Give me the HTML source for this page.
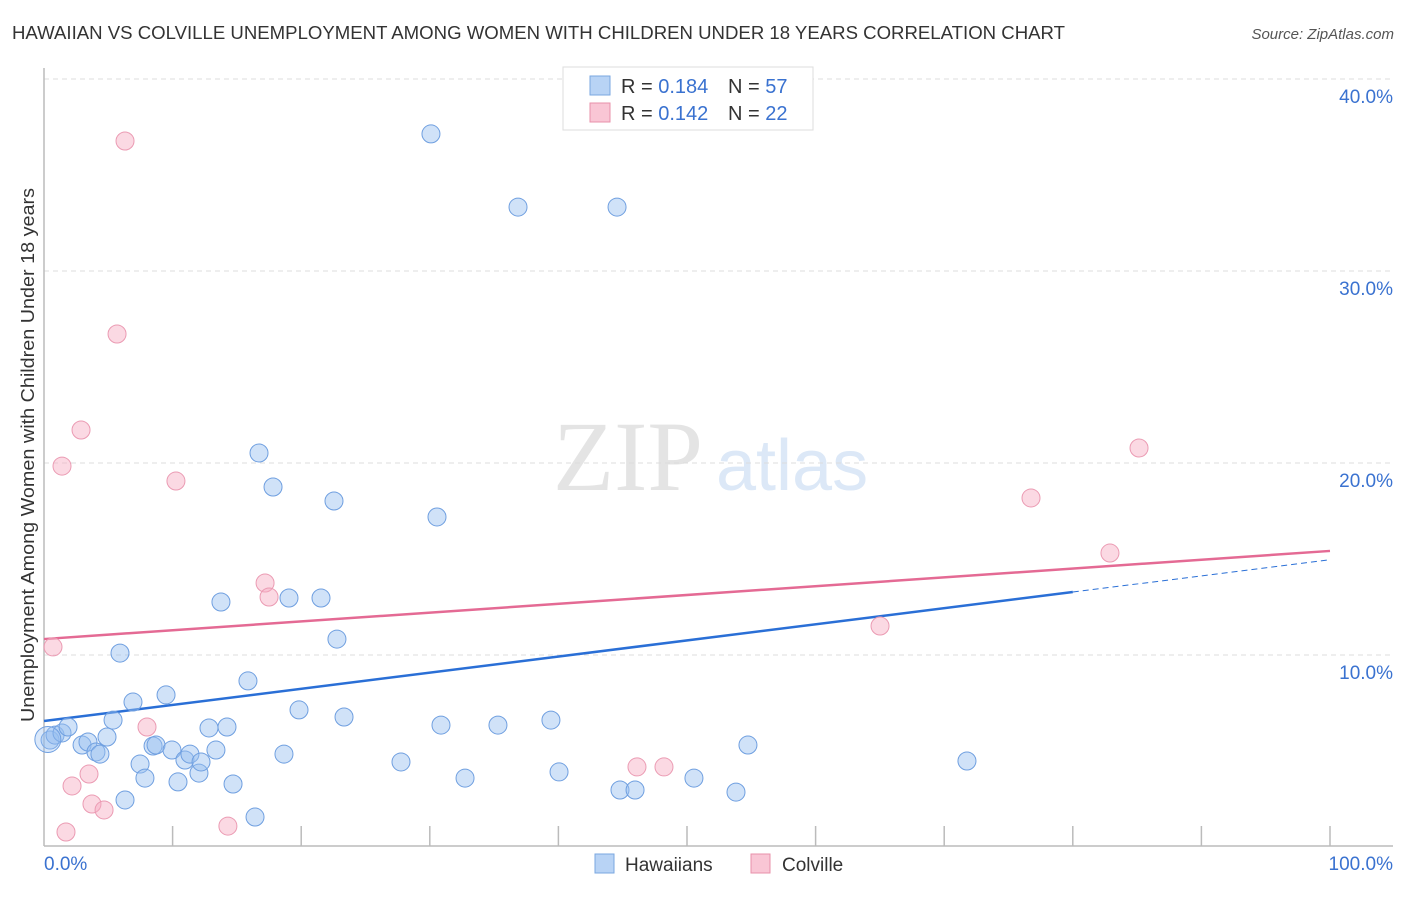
<!DOCTYPE html>
<html><head><meta charset="utf-8">
<style>
html,body{margin:0;padding:0;background:#fff;}
body{width:1406px;height:892px;overflow:hidden;font-family:"Liberation Sans",sans-serif;}
</style></head>
<body>
<svg id="chart" width="1406" height="892" xmlns="http://www.w3.org/2000/svg" font-family="Liberation Sans, sans-serif">
<text x="12" y="39" font-size="18.5" fill="#333" textLength="1053" lengthAdjust="spacingAndGlyphs">HAWAIIAN VS COLVILLE UNEMPLOYMENT AMONG WOMEN WITH CHILDREN UNDER 18 YEARS CORRELATION CHART</text>
<text x="1394" y="39" font-size="15" fill="#555" font-style="italic" text-anchor="end">Source: ZipAtlas.com</text>
<g>
<text x="553" y="490" font-family="Liberation Serif, serif" font-size="100" fill="#e4e4e4">ZIP</text>
<text x="716" y="490" font-size="72" fill="#dce8f7">atlas</text>
</g>
<g id="grid"></g>
<g id="axes"></g>
<g id="lines"></g>
<g id="points"></g>
<text transform="translate(34,455) rotate(-90)" font-size="18" fill="#333" text-anchor="middle" textLength="534" lengthAdjust="spacingAndGlyphs">Unemployment Among Women with Children Under 18 years</text>
<g>
<rect x="563" y="67" width="250" height="63" fill="#fff" stroke="#ddd"/>
<rect x="590" y="76" width="20" height="19" fill="#b8d3f5" stroke="#7aa7e0"/>
<text x="621" y="93" font-size="20" fill="#333">R = <tspan fill="#3a72d0">0.184</tspan></text>
<text x="728" y="93" font-size="20" fill="#333">N = <tspan fill="#3a72d0">57</tspan></text>
<rect x="590" y="103" width="20" height="19" fill="#f9c6d5" stroke="#e890aa"/>
<text x="621" y="120" font-size="20" fill="#333">R = <tspan fill="#3a72d0">0.142</tspan></text>
<text x="728" y="120" font-size="20" fill="#333">N = <tspan fill="#3a72d0">22</tspan></text>
</g>
<g>
<rect x="595" y="854" width="19" height="19" fill="#b8d3f5" stroke="#7aa7e0"/>
<text x="625" y="871" font-size="19" fill="#333">Hawaiians</text>
<rect x="751" y="854" width="19" height="19" fill="#f9c6d5" stroke="#e890aa"/>
<text x="782" y="871" font-size="19" fill="#333">Colville</text>
</g>
</svg>
<script>
const yTicks=[10,20,30,40];
const yTickLabels=["10.0%","20.0%","30.0%","40.0%"];
const xTickCount=10;
const xEndLabels=["0.0%","100.0%"];
const hawX=[0.47,0.86,1.4,1.87,2.96,3.42,4.04,4.35,4.9,5.37,5.91,6.3,6.92,7.47,7.85,8.48,8.71,9.49,9.95,10.42,10.96,11.35,12.05,12.21,12.83,13.37,13.76,14.23,14.7,15.86,16.41,16.72,17.81,18.66,19.05,19.83,21.54,22.55,22.78,23.33,27.76,30.09,30.56,30.87,32.74,35.3,36.86,39.42,40.05,44.56,44.79,45.96,50.54,53.81,54.74,71.77];
const hawY=[5.57,5.83,5.94,6.25,5.31,5.47,4.95,4.84,5.73,6.61,10.1,2.45,7.55,4.32,3.59,5.26,5.31,7.92,5.05,3.39,4.53,4.84,3.85,4.43,6.2,5.05,12.76,6.25,3.28,8.65,1.56,20.52,18.75,4.84,12.97,7.14,12.97,18.02,10.83,6.77,4.43,37.14,17.19,6.35,3.59,6.35,33.33,6.61,3.91,33.33,2.97,2.97,3.59,2.86,5.31,4.48];
const colX=[0.7,1.4,1.71,2.18,2.88,3.5,3.73,4.67,5.68,6.3,8.01,10.26,14.3,17.19,17.5,46.11,48.21,65.01,76.75,82.89,85.15];
const colY=[10.42,19.84,0.78,3.18,21.72,3.8,2.24,1.93,26.72,36.77,6.25,19.06,1.09,13.75,13.02,4.17,4.17,11.51,18.18,15.31,20.78];
const hawLine=[6.56,13.28,14.96];
const colLine=[10.83,15.42];
const X=v=>44+v*12.86;
const Y=v=>847-v*19.2;
const NS="http://www.w3.org/2000/svg";
function mk(tag,attrs,parent){const e=document.createElementNS(NS,tag);for(const k in attrs)e.setAttribute(k,attrs[k]);document.getElementById(parent).appendChild(e);return e;}
yTicks.forEach((t,i)=>{
  const g=mk('line',{x1:44,x2:1393,y1:Y(t),y2:Y(t),stroke:'#ddd','stroke-dasharray':'5,4'},'grid');
  
  
  const l=mk('text',{x:1393,y:Y(t)+24,'font-size':19,fill:'#3a72d0','text-anchor':'end'},'axes');
  l.textContent=yTickLabels[i];
  
  
});
const ax=mk('line',{x1:44,x2:44,y1:68,y2:846,stroke:'#bbb','stroke-width':1.5},'axes');


const bx=mk('line',{x1:44,x2:1393,y1:846,y2:846,stroke:'#bbb','stroke-width':1.5},'axes');


for(let i=1;i<=xTickCount;i++){
  const t=mk('line',{x1:X(i*10),x2:X(i*10),y1:826,y2:846,stroke:'#bbb','stroke-width':1.5},'axes');
  
  
}
const xl0=mk('text',{x:44,y:870,'font-size':19,fill:'#3a72d0'},'axes');xl0.textContent=xEndLabels[0];


const xl1=mk('text',{x:1393,y:870,'font-size':19,fill:'#3a72d0','text-anchor':'end'},'axes');xl1.textContent=xEndLabels[1];


colX.forEach((v,i)=>{
  const c=mk('circle',{cx:X(v),cy:Y(colY[i]),r:9,fill:'rgba(246,170,192,0.45)',stroke:'#eb9bb3','stroke-width':1},'points');
  
  
});
hawX.forEach((v,i)=>{
  const c=mk('circle',{cx:X(v),cy:Y(hawY[i]),r:9,fill:'rgba(150,190,240,0.45)',stroke:'#6f9fe0','stroke-width':1},'points');
  
  
});
const big=mk('circle',{cx:X(0.3),cy:Y(5.6),r:13,fill:'rgba(150,190,240,0.35)',stroke:'#6f9fe0'},'points');


const l1=mk('line',{x1:X(0),y1:Y(hawLine[0]),x2:X(80),y2:Y(hawLine[1]),stroke:'#2a6fd6','stroke-width':2.5},'lines');


const l2=mk('line',{x1:X(80),y1:Y(hawLine[1]),x2:X(100),y2:Y(hawLine[2]),stroke:'#2a6fd6','stroke-width':1,'stroke-dasharray':'6,4'},'lines');


const l3=mk('line',{x1:X(0),y1:Y(colLine[0]),x2:X(100),y2:Y(colLine[1]),stroke:'#e46a94','stroke-width':2.5},'lines');


</script>
</body></html>
